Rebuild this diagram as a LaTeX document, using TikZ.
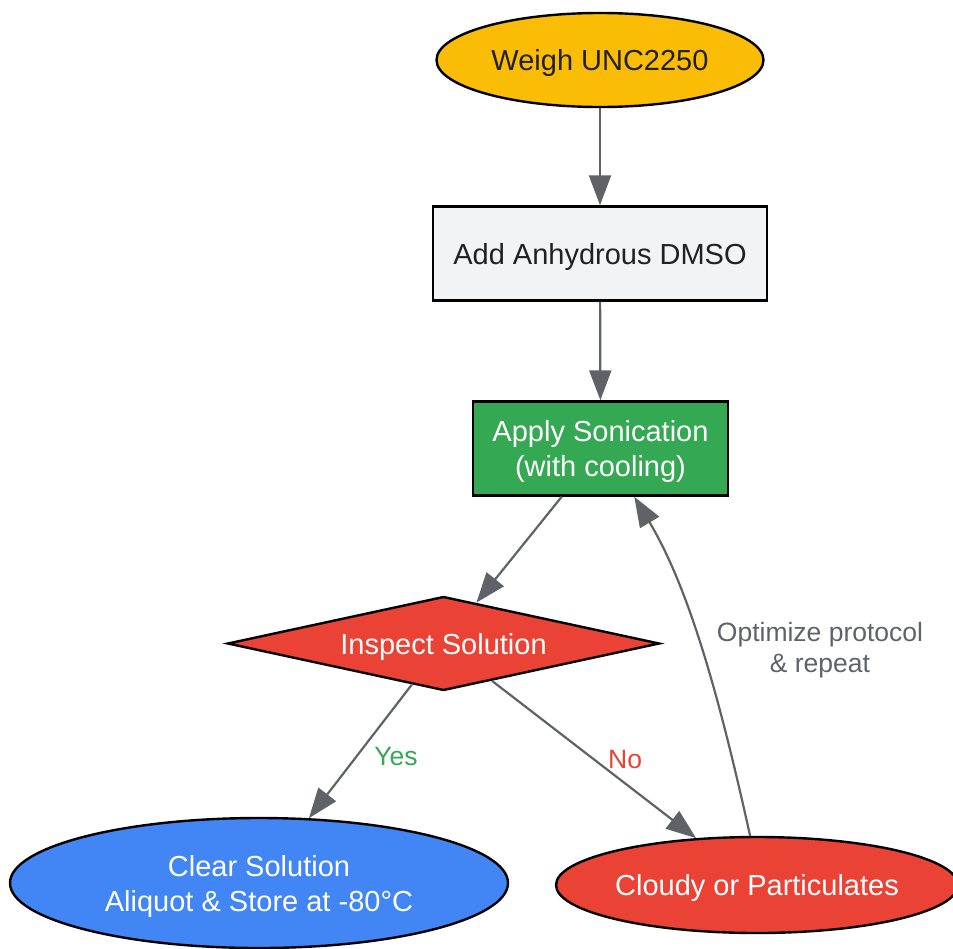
\documentclass[tikz,border=0pt]{standalone}
\usepackage{fontspec}
\setmainfont{Liberation Sans}
\usetikzlibrary{shapes.geometric,arrows.meta,positioning}

\definecolor{gyellow}{HTML}{FBBC05}
\definecolor{glight}{HTML}{F1F3F4}
\definecolor{ggreen}{HTML}{34A853}
\definecolor{gred}{HTML}{EA4335}
\definecolor{gblue}{HTML}{4285F4}
\definecolor{gedge}{HTML}{5F6368}
\definecolor{gtext}{HTML}{202124}

\begin{document}
\begin{tikzpicture}[x=1pt, y=-1pt,
    nodefont/.style={font=\fontsize{29}{35}\selectfont, text=gtext, align=center, text depth=0pt},
    procbox/.style={nodefont, rectangle, draw=black, line width=2.4pt, minimum height=94pt, inner sep=0pt},
    termel/.style={nodefont, ellipse, draw=black, line width=2.4pt, inner sep=0pt},
    decision/.style={nodefont, diamond, draw=black, line width=2.4pt, aspect=3, inner sep=0pt, minimum width=432pt, minimum height=94pt},
    flow/.style={draw=gedge, line width=2.2pt, -{Triangle[length=30pt, width=22pt]}},
    lbl/.style={font=\fontsize{26.5}{31}\selectfont, inner sep=2pt}]

    \useasboundingbox (0,0) rectangle (953,948);

    % nodes
    \node[termel, fill=gyellow, minimum width=327pt, minimum height=94pt] (weigh) at (600,60) {Weigh UNC2250};
    \node[procbox, fill=glight, minimum width=334pt] (dmso) at (600,253.5) {Add Anhydrous DMSO};
    \node[procbox, fill=ggreen, text=white, minimum width=255pt] (sonic) at (600.5,448.5) {Apply Sonication\\(with cooling)};
    \node[decision, fill=gred, text=white] (inspect) at (443.5,643.5) {Inspect Solution};
    \node[termel, fill=gblue, text=white, minimum width=498pt, minimum height=130pt] (clear) at (259,883) {Clear Solution\\Aliquot \& Store at -80°C};
    \node[termel, fill=gred, text=white, minimum width=402pt, minimum height=96pt] (cloudy) at (757,885) {Cloudy or Particulates};

    % edges
    \draw[flow] (weigh) -- (dmso);
    \draw[flow] (dmso) -- (sonic);
    \draw[flow] (sonic) -- (inspect);
    \draw[flow] (inspect) -- node[lbl, text=ggreen, right=11pt, yshift=-5pt] {Yes} (clear);
    \draw[flow] (inspect) -- node[lbl, text=gred, right=11pt] {No} (cloudy);
    \draw[flow] (cloudy.98) .. controls (720,700) and (690,590) .. node[lbl, text=gedge, align=center, right=12pt] {Optimize protocol\\\& repeat} (sonic.-55);

\end{tikzpicture}
\end{document}
